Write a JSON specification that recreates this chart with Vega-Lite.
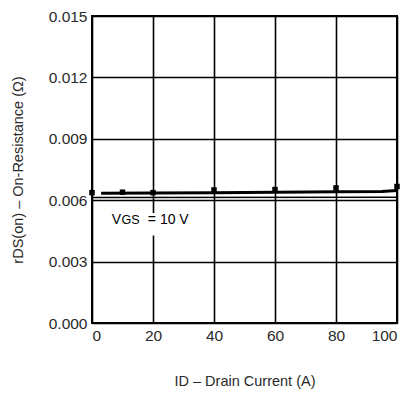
{
  "$schema": "https://vega.github.io/schema/vega-lite/v6.json",
  "autosize": {"type": "none"},
  "width": 305,
  "height": 307,
  "padding": {"left": 92, "top": 16, "right": 20, "bottom": 71},
  "config": {
    "font": "Liberation Sans",
    "view": {"stroke": "#000000", "strokeWidth": 2},
    "axis": {
      "grid": true, "gridColor": "#000000", "gridWidth": 1.6, "gridOpacity": 1,
      "domain": false, "ticks": false,
      "labelFont": "Liberation Sans", "labelFontSize": 15.5, "labelColor": "#2a2a2a",
      "titleFont": "Liberation Sans", "titleFontSize": 14.5, "titleFontWeight": "normal", "titleColor": "#2a2a2a"
    }
  },
  "datasets": {
    "fit": [
      {"id": 3, "r": 0.00634},
      {"id": 20, "r": 0.00635},
      {"id": 40, "r": 0.00637},
      {"id": 60, "r": 0.00639},
      {"id": 80, "r": 0.00641},
      {"id": 95, "r": 0.00643},
      {"id": 100, "r": 0.00647}
    ],
    "thin": [
      {"id": 0, "r": 0.00613},
      {"id": 100, "r": 0.00614}
    ],
    "meas": [
      {"id": 0, "r": 0.00637},
      {"id": 10, "r": 0.00639},
      {"id": 20, "r": 0.00637},
      {"id": 40, "r": 0.0065},
      {"id": 60, "r": 0.00652},
      {"id": 80, "r": 0.0066},
      {"id": 100, "r": 0.00667}
    ],
    "box": [
      {"x1": 5, "x2": 34, "y1": 0.00427, "y2": 0.00537}
    ],
    "label": [
      {"id": 6.5, "r": 0.00505, "t": "V", "part": "main"},
      {"id": 9.7, "r": 0.00505, "t": "GS", "part": "sub"},
      {"id": 18.3, "r": 0.00505, "t": "= 10 V", "part": "main"}
    ]
  },
  "encoding": {
    "x": {"field": "id", "type": "quantitative",
      "scale": {"domain": [0, 100], "nice": false},
      "axis": {"values": [0, 20, 40, 60, 80, 100], "title": "ID – Drain Current (A)", "labelPadding": 5, "titlePadding": 31}},
    "y": {"field": "r", "type": "quantitative",
      "scale": {"domain": [0, 0.015], "nice": false},
      "axis": {"values": [0, 0.003, 0.006, 0.009, 0.012, 0.015], "format": ".3f", "title": "rDS(on) – On-Resistance (Ω)", "labelPadding": 5, "titlePadding": 23}}
  },
  "layer": [
    {"data": {"name": "thin"}, "mark": {"type": "line", "color": "#000000", "strokeWidth": 1.5}},
    {"data": {"name": "fit"}, "mark": {"type": "line", "color": "#000000", "strokeWidth": 3}},
    {"data": {"name": "meas"}, "mark": {"type": "square", "color": "#000000", "filled": true, "opacity": 1, "size": 30}},
    {"data": {"name": "box"}, "mark": {"type": "rect", "color": "#ffffff"},
      "encoding": {
        "x": {"field": "x1", "type": "quantitative"}, "x2": {"field": "x2"},
        "y": {"field": "y1", "type": "quantitative"}, "y2": {"field": "y2"}
      }},
    {"data": {"name": "label"},
      "mark": {"type": "text", "align": "left", "baseline": "middle", "color": "#000000", "font": "Liberation Sans"},
      "encoding": {
        "text": {"field": "t"},
        "size": {"field": "part", "type": "nominal", "scale": {"domain": ["main", "sub"], "range": [14, 12.5]}, "legend": null},
        "yOffset": {"condition": {"test": "datum.part === 'sub'", "value": 4}, "value": 0}
      }}
  ]
}
